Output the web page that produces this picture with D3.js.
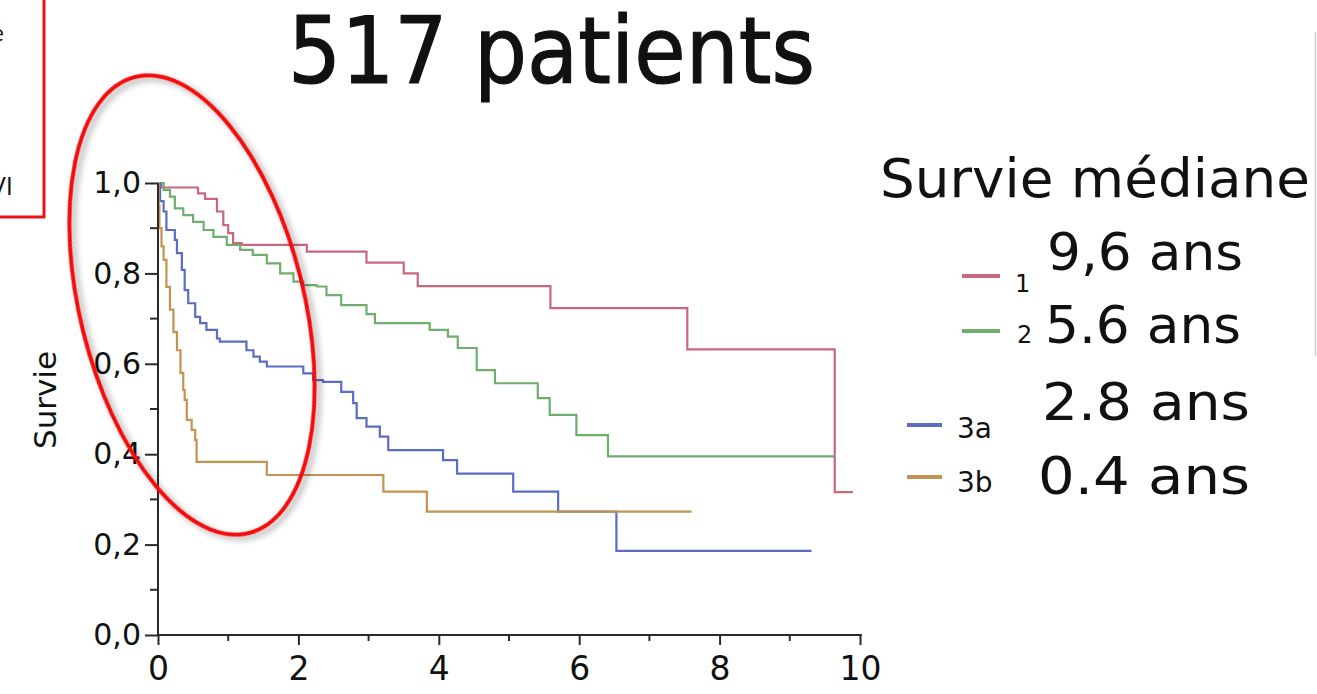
<!DOCTYPE html>
<html>
<head>
<meta charset="utf-8">
<script src="https://cdn.jsdelivr.net/npm/d3@7"></script>
<style>
  html, body { margin: 0; padding: 0; background: #fff; }
  svg { display: block; }
  text { font-family: "DejaVu Sans", "Open Sans", sans-serif; fill: #111; }
</style>
</head>
<body>
<svg id="chart" width="1317" height="694"></svg>
<script>
// ---------- data ----------
const title = "517 patients";
const yLabel = "Survie";
const legendTitle = "Survie médiane";
const groups = ["1", "2", "3a", "3b"];
const medians = ["9,6 ans", "5.6 ans", "2.8 ans", "0.4 ans"];
const colors = ["#c9677d", "#6fae6f", "#5b6cc4", "#c39450"];

const xTicks = [0, 2, 4, 6, 8, 10];
const yTicks = [0, 0.2, 0.4, 0.6, 0.8, 1.0];
const yTickLabels = ["0,0", "0,2", "0,4", "0,6", "0,8", "1,0"];

const time1 = [0, 0.05, 0.57, 0.67, 0.84, 0.93, 1.0, 1.07, 1.19, 2.12, 2.97, 3.50, 3.70, 5.59, 7.54, 9.64, 9.9];
const surv1 = [1.0, 0.99, 0.977, 0.965, 0.937, 0.907, 0.889, 0.867, 0.863, 0.848, 0.824, 0.80, 0.772, 0.723, 0.632, 0.316, 0.316];

const time2 = [0, 0.08, 0.17, 0.24, 0.36, 0.50, 0.65, 0.79, 0.98, 1.17, 1.35, 1.55, 1.74, 1.93, 2.07, 2.26, 2.40, 2.61, 2.97, 3.09, 3.87, 4.13, 4.27, 4.54, 4.80, 5.41, 5.58, 5.96, 6.41, 9.64];
const surv2 = [1.0, 0.985, 0.97, 0.944, 0.929, 0.914, 0.896, 0.881, 0.863, 0.852, 0.841, 0.822, 0.80, 0.782, 0.774, 0.771, 0.752, 0.73, 0.71, 0.69, 0.675, 0.66, 0.635, 0.586, 0.557, 0.524, 0.487, 0.442, 0.395, 0.395];

const time3a = [0, 0.03, 0.08, 0.12, 0.24, 0.27, 0.34, 0.38, 0.43, 0.53, 0.60, 0.69, 0.84, 0.88, 1.26, 1.36, 1.45, 1.55, 2.07, 2.21, 2.35, 2.61, 2.78, 2.83, 2.97, 3.16, 3.28, 4.06, 4.26, 5.06, 5.70, 6.53, 9.31];
const surv3a = [1.0, 0.96, 0.937, 0.896, 0.874, 0.845, 0.808, 0.763, 0.734, 0.704, 0.69, 0.675, 0.656, 0.649, 0.63, 0.616, 0.605, 0.594, 0.579, 0.564, 0.56, 0.538, 0.513, 0.48, 0.461, 0.439, 0.409, 0.387, 0.357, 0.317, 0.273, 0.186, 0.186];

const time3b = [0, 0.01, 0.02, 0.05, 0.08, 0.12, 0.17, 0.22, 0.27, 0.32, 0.36, 0.38, 0.41, 0.48, 0.53, 0.55, 1.55, 3.21, 3.83, 7.6];
const surv3b = [1.0, 0.95, 0.90, 0.86, 0.83, 0.77, 0.72, 0.67, 0.63, 0.58, 0.542, 0.52, 0.476, 0.454, 0.431, 0.383, 0.354, 0.317, 0.273, 0.273];

const seriesTimes = [time1, time2, time3a, time3b];
const seriesSurv = [surv1, surv2, surv3a, surv3b];

// ---------- drawing ----------
const svg = d3.select("#chart");
const x = d3.scaleLinear().domain([0, 10]).range([158, 860]);
const y = d3.scaleLinear().domain([0, 1]).range([635, 183]);

const defs = svg.append("defs");
const f = defs.append("filter").attr("id", "shadow").attr("x", "-20%").attr("y", "-20%").attr("width", "140%").attr("height", "140%");
f.append("feDropShadow").attr("dx", 3).attr("dy", 4).attr("stdDeviation", 3).attr("flood-color", "#000").attr("flood-opacity", 0.35);

// cropped slide box at top-left (its texts are cut by the picture edge, as in the source)
svg.append("rect").attr("x", -10).attr("y", -10).attr("width", 54).attr("height", 227)
  .attr("fill", "none").attr("stroke", "#e8141c").attr("stroke-width", 3);
svg.append("text").attr("x", 4).attr("y", 41).attr("text-anchor", "end")
  .style("font-family", "'Open Sans', sans-serif").style("font-size", "22px").text("e");
svg.append("text").attr("x", 13).attr("y", 195).attr("text-anchor", "end")
  .style("font-family", "'Open Sans', sans-serif").style("font-size", "26px").text("VI");

// faint vertical line at right edge
svg.append("line").attr("x1", 1315.5).attr("x2", 1315.5).attr("y1", 32).attr("y2", 356)
  .attr("stroke", "#cfcfcf").attr("stroke-width", 1.5);

// title
svg.append("text").attr("x", 288).attr("y", 83)
  .attr("textLength", 527).attr("lengthAdjust", "spacingAndGlyphs")
  .style("font-size", "92px").style("stroke", "#111").style("stroke-width", "1.2px").text(title);

// curves
const line = d3.line().x(d => x(d[0])).y(d => y(d[1])).curve(d3.curveStepAfter);
seriesTimes.forEach((times, i) => {
  const pts = times.map((t, j) => [t, seriesSurv[i][j]]);
  svg.append("path").datum(pts).attr("d", line)
    .attr("fill", "none").attr("stroke", colors[i]).attr("stroke-width", 2.2);
});

// axes
const axisColor = "#2a2a2a";
const yAxis = d3.axisLeft(y).tickValues(yTicks).tickFormat((d, i) => yTickLabels[i]).tickSize(13).tickPadding(4);
const gy = svg.append("g").attr("transform", "translate(158,0)").call(yAxis);
gy.selectAll("text").style("font-size", "30px").attr("fill", "#111");
gy.selectAll("line, path").attr("stroke", axisColor).attr("stroke-width", 2);
gy.select(".domain").attr("d", `M0,${y(1)}V${y(0)}`);
const yMinor = d3.range(0.1, 1, 0.2);
svg.append("g").selectAll("line").data(yMinor).join("line")
  .attr("x1", 150).attr("x2", 158).attr("y1", d => y(d)).attr("y2", d => y(d))
  .attr("stroke", axisColor).attr("stroke-width", 2);

const xAxis = d3.axisBottom(x).tickValues(xTicks).tickSize(10).tickPadding(12);
const gx = svg.append("g").attr("transform", "translate(0,635)").call(xAxis);
gx.selectAll("text").style("font-size", "33px").attr("fill", "#111");
gx.selectAll("line, path").attr("stroke", axisColor).attr("stroke-width", 2);
gx.select(".domain").attr("d", `M158,0H862`);
const xMinor = d3.range(1, 10, 2);
svg.append("g").selectAll("line").data(xMinor).join("line")
  .attr("x1", d => x(d)).attr("x2", d => x(d)).attr("y1", 635).attr("y2", 641)
  .attr("stroke", axisColor).attr("stroke-width", 2);

// y label
svg.append("text").attr("transform", "translate(56,400) rotate(-90)")
  .attr("text-anchor", "middle").style("font-size", "31px").text(yLabel);

// legend
svg.append("text").attr("x", 880).attr("y", 197)
  .attr("textLength", 430).attr("lengthAdjust", "spacingAndGlyphs")
  .style("font-size", "54px").text(legendTitle);

const medX = [1047, 1045, 1042, 1038];
const medY = [270, 343, 420, 494];
const medW = [196, 196, 208, 212];
medians.forEach((m, i) => {
  svg.append("text").attr("x", medX[i]).attr("y", medY[i])
    .attr("textLength", medW[i]).attr("lengthAdjust", "spacingAndGlyphs")
    .style("font-size", "52px").text(m);
});

const swX = [962, 962, 907, 907];
const swY = [276, 331, 425, 477];
const swW = [38, 38, 35, 35];
groups.forEach((g, i) => {
  svg.append("line").attr("x1", swX[i]).attr("x2", swX[i] + swW[i])
    .attr("y1", swY[i]).attr("y2", swY[i])
    .attr("stroke", colors[i]).attr("stroke-width", 4);
});
const gLabX = [1015, 1017, 957, 957];
const gLabY = [292, 343, 438, 492];
const gLabSize = [24, 24, 28, 28];
groups.forEach((g, i) => {
  svg.append("text").attr("x", gLabX[i]).attr("y", gLabY[i])
    .style("font-size", gLabSize[i] + "px").text(g);
});

// highlighted ellipse
svg.append("ellipse").attr("cx", 192).attr("cy", 305).attr("rx", 112).attr("ry", 235)
  .attr("transform", "rotate(-14,192,305)")
  .attr("fill", "none").attr("stroke", "#f20d0d").attr("stroke-width", 4)
  .attr("filter", "url(#shadow)");
</script>
</body>
</html>
